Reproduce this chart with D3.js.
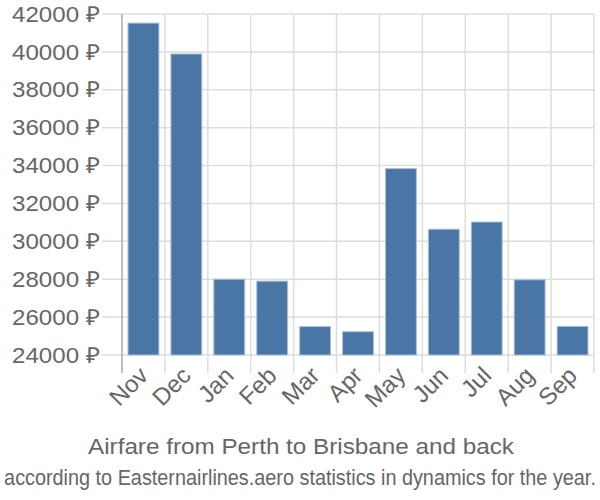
<!DOCTYPE html>
<html><head><meta charset="utf-8">
<script src="https://cdn.jsdelivr.net/npm/d3@7"></script>
<style>body{margin:0;background:#fff}svg{display:block}text{font-family:"Liberation Sans",Arial,sans-serif}</style>
</head><body><svg id="c" width="600" height="500"></svg>
<script>
const months = ["Nov","Dec","Jan","Feb","Mar","Apr","May","Jun","Jul","Aug","Sep"];
const prices = [41520,39890,28000,27900,25500,25230,33840,30640,31020,27970,25510];
const yTicks = [24000,26000,28000,30000,32000,34000,36000,38000,40000,42000];
const title = "Airfare from Perth to Brisbane and back";
const subtitle = "according to Easternairlines.aero statistics in dynamics for the year.";

const svg = d3.select("#c");
const L = 122, R = 594, T = 14, B = 355;
const x = d3.scaleBand().domain(months).range([L, R]).paddingInner(0.28).paddingOuter(0.14);
const xg = d3.scaleBand().domain(months).range([L, R]);
const y = d3.scaleLinear().domain([24000, 42000]).range([B, T]);

svg.append("g").selectAll("line").data(yTicks).join("line")
  .attr("x1", L - 20).attr("x2", R).attr("y1", d => y(d)).attr("y2", d => y(d))
  .attr("stroke", "#ddd").attr("stroke-width", 1.5);
const vx = months.map(m => xg(m)).concat([R]);
svg.append("g").selectAll("line").data(vx.slice(1)).join("line")
  .attr("x1", d => d).attr("x2", d => d).attr("y1", T).attr("y2", B + 18)
  .attr("stroke", "#ddd").attr("stroke-width", 1.5);
svg.append("line").attr("x1", L).attr("x2", L).attr("y1", T).attr("y2", B + 18)
  .attr("stroke", "#aaa").attr("stroke-width", 1.5);

svg.append("g").selectAll("rect").data(months).join("rect")
  .attr("x", d => x(d)).attr("width", x.bandwidth())
  .attr("y", (d, i) => y(prices[i])).attr("height", (d, i) => B - y(prices[i]))
  .attr("fill", "#4a76a6").attr("stroke", "#a9c0db").attr("stroke-width", 1);

svg.append("g").selectAll("text").data(yTicks).join("text")
  .attr("x", 100).attr("y", d => y(d)).attr("dy", "0.35em")
  .attr("text-anchor", "end").attr("fill", "#666").attr("font-size", 22)
  .attr("textLength", 88).attr("lengthAdjust", "spacingAndGlyphs")
  .text(d => d + " ₽");

svg.append("g").selectAll("text").data(months).join("text")
  .attr("transform", d => `translate(${xg(d) + xg.bandwidth()/2 + 6},${B + 22}) rotate(-45)`)
  .attr("text-anchor", "end").attr("fill", "#666").attr("font-size", 24)
  .text(d => d);

svg.append("text").attr("x", 301).attr("y", 454).attr("text-anchor", "middle")
  .attr("fill", "#666").attr("font-size", 22).attr("textLength", 426).attr("lengthAdjust", "spacingAndGlyphs").text(title);
const sub = svg.append("text").attr("x", 0).attr("y", 0).attr("text-anchor", "middle")
  .attr("fill", "#666").attr("font-size", 22).text(subtitle);
const natural = sub.node().getComputedTextLength();
const sx = Math.min(1, 592 / natural);
sub.attr("transform", `translate(300,485) scale(${sx},1)`);
</script></body></html>
